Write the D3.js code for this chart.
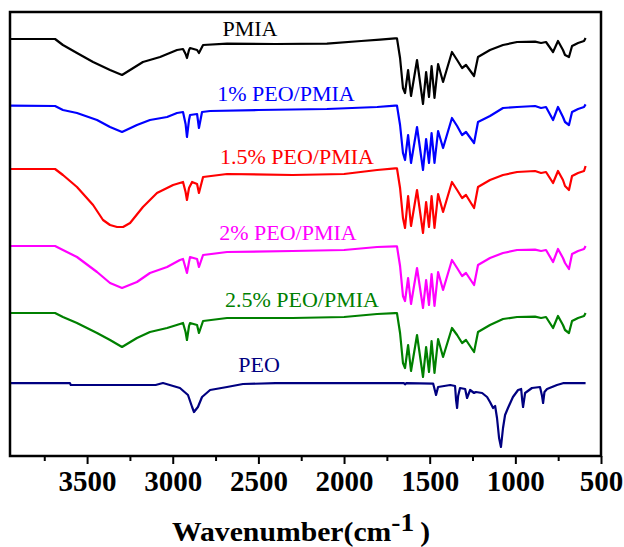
<!DOCTYPE html>
<html>
<head>
<meta charset="utf-8">
<script src="https://cdn.jsdelivr.net/npm/d3@7/dist/d3.min.js"></script>
<style>
  html, body { margin: 0; padding: 0; background: #fff; }
  svg { display: block; }
</style>
</head>
<body>
<svg id="chart" width="624" height="547"></svg>
<script>
// FTIR spectra, stacked with vertical offsets (transmittance, arbitrary units)
const seriesNames = ["PMIA", "1% PEO/PMIA", "1.5% PEO/PMIA", "2% PEO/PMIA", "2.5% PEO/PMIA", "PEO"];
const seriesColors = ["#000000", "#0000ff", "#ff0000", "#ff00ff", "#008000", "#000080"];

// [wavenumber (cm-1), transmittance (a.u., offset)]
const pmia = [
  [3950,104.25],[3687,104.25],[3641,102.75],[3559,100.75],[3465,98.5],[3366,96.5],[3296,95.25],
  [3174,98.5],[3074,99.75],[2975,101.5],[2940,101.75],[2925,100.5],[2917,99.5],[2905,101.5],
  [2899,102],[2858,101.5],[2847,100.75],[2823,102.75],[2683,103.1],[2400,103],[2100,103.1],
  [1900,103.75],[1790,104.1],[1702,104.4],[1691,104.4],[1673,99.5],[1656,92],[1644,90.75],
  [1626,96.5],[1609,90],[1574,99],[1539,88],[1521,96],[1504,89.75],[1489,97.5],[1472,89.5],
  [1451,98],[1422,93.5],[1370,101],[1340,99],[1311,97],[1288,97.75],[1241,95],[1218,99.75],
  [1148,101.5],[1072,102.75],[990,103.5],[885,103.6],[850,103.25],[821,103.5],[780,101],
  [751,103.75],[722,101.5],[710,100.25],[687,99.75],[669,102.5],[634,103.25],[599,103.75],[590,104.5]
];
const peoPmia1 = [
  [3950,87.6],[3687,87.5],[3641,86.5],[3559,85.75],[3442,84],[3366,82.25],[3296,81],
  [3209,82.75],[3133,84],[3033,84.75],[2975,85.75],[2940,86],[2925,83],[2917,79.75],[2905,84],
  [2899,85.25],[2858,85.5],[2847,82],[2829,86],[2782,86.25],[2500,86.5],[2100,86.75],
  [1807,87.25],[1702,87.6],[1691,87.6],[1673,82.75],[1656,75.75],[1644,74],[1626,80.25],
  [1609,73.25],[1574,82.25],[1539,71.5],[1521,79.25],[1504,73.25],[1489,80.75],[1472,73.25],
  [1451,81.25],[1422,77],[1370,84.5],[1340,82.5],[1311,80.25],[1288,81],[1241,78.25],
  [1218,83.5],[1148,85],[1072,87],[990,87.25],[885,87.5],[850,87],[821,87.25],[780,84],
  [751,87.25],[722,84.75],[710,83.5],[687,82.75],[669,86],[634,86.75],[599,87.25],[590,87.9]
];
const peoPmia15 = [
  [3950,71.75],[3687,71.75],[3641,70.25],[3559,67.25],[3465,62.75],[3407,59],[3366,57.75],
  [3325,57.25],[3290,57.25],[3249,58.25],[3174,62.25],[3092,65.75],[2998,67.75],[2940,68.5],
  [2925,66],[2917,64],[2905,67],[2887,68.5],[2858,68],[2847,65.75],[2823,69.75],[2683,70.5],
  [2300,70.25],[2000,70.5],[1807,71.5],[1702,71.9],[1691,71.9],[1673,67],[1656,59.5],[1644,57],
  [1626,65],[1609,57.5],[1574,66.5],[1539,55.75],[1521,63.5],[1504,57.25],[1489,65],[1472,57],
  [1451,65.5],[1422,61],[1370,68.5],[1340,66.5],[1311,64.5],[1288,65.25],[1241,62],[1218,67.25],
  [1148,69],[1072,70.25],[990,71],[885,71.25],[850,70.75],[821,71],[780,68.25],[751,71.25],
  [722,69],[710,67.5],[687,66.5],[669,70],[634,70.75],[599,71.25],[590,72.5]
];
const peoPmia2 = [
  [3950,52.5],[3687,52.5],[3641,51.5],[3559,49.75],[3442,46],[3366,43.25],[3296,42],
  [3209,43.5],[3133,45.75],[3033,47.25],[2958,49],[2940,49.25],[2925,47],[2917,45.75],[2905,48.5],
  [2899,49.75],[2858,49.25],[2847,47.25],[2823,50.25],[2683,51],[2300,51.25],[2000,51.5],
  [1807,52.25],[1702,52.4],[1691,52.4],[1673,47.5],[1656,40],[1644,38.75],[1626,44.5],[1609,38],
  [1574,47],[1539,37],[1521,44],[1504,37.75],[1489,45.5],[1472,37.5],[1451,46],[1422,41.5],
  [1370,49],[1340,47],[1311,45],[1288,45.75],[1241,42.75],[1218,47.75],[1148,49.5],[1072,50.75],
  [990,51.5],[885,51.6],[850,51.25],[821,51.5],[780,48.5],[751,51.75],[722,49.5],[710,48.25],
  [687,46.75],[669,50.5],[634,51.25],[599,51.75],[590,52.5]
];
const peoPmia25 = [
  [3950,35.75],[3687,35.75],[3641,34.75],[3559,33.25],[3442,30.75],[3366,29],[3296,27.25],
  [3209,29.5],[3133,31],[3033,32],[2958,33],[2940,33.25],[2925,31],[2917,29],[2905,32.5],
  [2899,33.25],[2858,32.75],[2847,30.75],[2823,33.75],[2683,34.5],[2300,34.5],[2000,34.75],
  [1807,35.5],[1702,35.7],[1691,35.7],[1673,30.75],[1656,23.25],[1644,22],[1626,27.75],[1609,21.25],
  [1574,30.25],[1539,19.75],[1521,27.25],[1504,21],[1489,28.75],[1472,20.75],[1451,29.25],[1422,24.75],
  [1370,32],[1340,30.25],[1311,28.25],[1288,29],[1241,26],[1218,31],[1148,32.75],[1072,34.25],
  [990,34.75],[885,34.85],[850,34.5],[821,34.75],[780,32],[751,35],[722,32.75],[710,31.5],
  [687,30.75],[669,33.75],[634,34.5],[599,35],[590,35.75]
];
const peo = [
  [3950,18.2],[3600,18.2],[3595,17.75],[3100,17.75],[3057,18.25],[2958,17],[2911,15.25],
  [2887,12.25],[2876,11],[2853,12.25],[2829,14.75],[2782,16.5],[2683,17.25],[2590,18],
  [2400,18.2],[1800,18.2],[1650,18.2],[1644,17.9],[1636,18.2],[1480,18.1],[1463,15.25],
  [1451,17.25],[1380,17.75],[1352,17.5],[1346,14],[1340,12],[1334,15],[1323,17],[1293,16.75],
  [1282,14.5],[1264,16.5],[1241,15.75],[1230,16],[1194,15.75],[1165,14.75],[1148,13.5],[1130,12],
  [1118,12.5],[1107,9.5],[1095,4.5],[1084,2.25],[1072,7],[1060,10.25],[1043,12],[1014,14.75],
  [984,16.5],[966,16.75],[960,14],[955,12.25],[943,15.75],[903,17],[856,17.25],[844,15],
  [838,13.25],[830,16],[815,16.75],[757,17.75],[722,18.2],[590,18.2]
];
const seriesValues = [pmia, peoPmia1, peoPmia15, peoPmia2, peoPmia25, peo];

const xTickValues = [3500, 3000, 2500, 2000, 1500, 1000, 500];
const xMinorTickValues = [3750, 3250, 2750, 2250, 1750, 1250, 750];
const axisTitle = "Wavenumber(cm";
const axisTitleSup = "-1";

// ---- layout ----
const svg = d3.select("#chart");
const plot = { left: 10, right: 601, top: 12, bottom: 456 };

const x = d3.scaleLinear().domain([3950, 500]).range([plot.left, plot.right]);
const y = d3.scaleLinear().domain([0, 111]).range([plot.bottom, plot.top]);

const serif = "'Liberation Serif', 'Times New Roman', serif";

// spectra
const line = d3.line().x(d => x(d[0])).y(d => y(d[1]));
svg.append("g")
  .selectAll("path")
  .data(seriesValues)
  .join("path")
  .attr("d", line)
  .attr("fill", "none")
  .attr("stroke", (d, i) => seriesColors[i])
  .attr("stroke-width", 2.2)
  .attr("stroke-linejoin", "round");

// series labels
const labelPos = [
  { cx: 250, by: 36 },
  { cx: 286, by: 101 },
  { cx: 297, by: 164 },
  { cx: 288, by: 240 },
  { cx: 302, by: 307 },
  { cx: 259, by: 372 }
];
svg.append("g")
  .selectAll("text")
  .data(seriesNames)
  .join("text")
  .attr("x", (d, i) => labelPos[i].cx)
  .attr("y", (d, i) => labelPos[i].by)
  .attr("text-anchor", "middle")
  .attr("font-family", serif)
  .attr("font-size", 22)
  .attr("fill", (d, i) => seriesColors[i])
  .text(d => d);

// frame
svg.append("rect")
  .attr("x", plot.left)
  .attr("y", plot.top)
  .attr("width", plot.right - plot.left)
  .attr("height", plot.bottom - plot.top)
  .attr("fill", "none")
  .attr("stroke", "#000")
  .attr("stroke-width", 2.5);

// bottom axis: major ticks with labels, minor ticks without
const axisG = svg.append("g").attr("transform", `translate(0,${plot.bottom})`);
axisG.call(d3.axisBottom(x).tickValues(xTickValues).tickSize(8).tickPadding(4).tickFormat(d3.format("d")));
axisG.select(".domain").remove();
axisG.selectAll(".tick line").attr("stroke", "#000").attr("stroke-width", 2);
axisG.selectAll(".tick text")
  .attr("font-family", serif)
  .attr("font-weight", "bold")
  .attr("font-size", 29)
  .attr("fill", "#000")
  .attr("y", 35)
  .attr("dy", 0);

const minorG = svg.append("g").attr("transform", `translate(0,${plot.bottom})`);
minorG.call(d3.axisBottom(x).tickValues(xMinorTickValues).tickSize(5).tickFormat(""));
minorG.select(".domain").remove();
minorG.selectAll(".tick line").attr("stroke", "#000").attr("stroke-width", 2);

// axis title (slightly widened serif bold)
const title = svg.append("text")
  .attr("transform", "translate(301,541) scale(1.1,1)")
  .attr("text-anchor", "middle")
  .attr("font-family", serif)
  .attr("font-weight", "bold")
  .attr("font-size", 27)
  .attr("fill", "#000");
title.append("tspan").text(axisTitle);
title.append("tspan").attr("dy", -10).attr("font-size", 25).text(axisTitleSup);
title.append("tspan").attr("dy", 10).text("\u2009)");
</script>
</body>
</html>
